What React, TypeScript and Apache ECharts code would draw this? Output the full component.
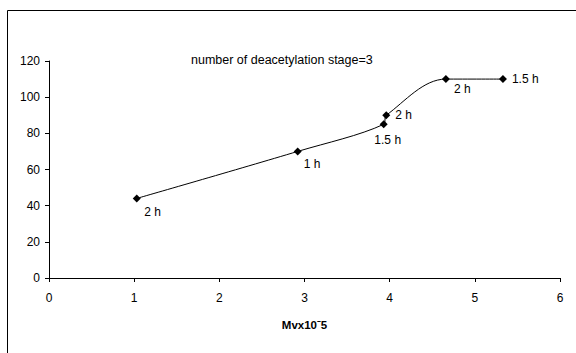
import React, { useEffect, useRef } from "react";
import * as echarts from "echarts";

const mvValues = [1.03, 2.92, 3.93, 3.96, 4.66, 5.33];
const yValues = [44, 70, 85, 90, 110, 110];
const timeLabels = ["2 h", "1 h", "1.5 h", "2 h", "2 h", "1.5 h"];
const xTicks = [0, 1, 2, 3, 4, 5, 6];
const yTicks = [0, 20, 40, 60, 80, 100, 120];

const labelPlacement: { position: string; offset: [number, number] }[] = [
  { position: "right", offset: [-1.5, 14] },
  { position: "right", offset: [-3, 13] },
  { position: "bottom", offset: [4, 1] },
  { position: "right", offset: [0, 0] },
  { position: "right", offset: [-1, 10] },
  { position: "right", offset: [0, 0] },
];

const FONT = "'Liberation Sans', Arial, sans-serif";

export default function App() {
  const ref = useRef<HTMLDivElement>(null);
  useEffect(() => {
    if (!ref.current) return;
    const chart = echarts.init(ref.current, null, { renderer: "svg" });
    const data = mvValues.map((x, i) => ({
      value: [x, yValues[i]],
      label: {
        show: true,
        formatter: timeLabels[i],
        position: labelPlacement[i].position as any,
        offset: labelPlacement[i].offset,
      },
    }));
    chart.setOption({
      animation: false,
      backgroundColor: "#ffffff",
      textStyle: { fontFamily: FONT },
      graphic: [
        {
          type: "rect",
          shape: { x: 7.5, y: 10.5, width: 620, height: 400 },
          style: { fill: "none", stroke: "#000", lineWidth: 1 },
          silent: true,
        },
        {
          type: "text",
          left: 191,
          top: 53,
          style: {
            text: "number of deacetylation stage=3",
            font: `12.5px ${FONT}`,
            fill: "#000",
          },
        },
      ],
      grid: { left: 49, top: 61, width: 511, height: 217 },
      xAxis: {
        type: "value",
        min: xTicks[0],
        max: xTicks[xTicks.length - 1],
        interval: 1,
        name: "Mvx10ˉ5",
        nameLocation: "middle",
        nameGap: 41,
        nameTextStyle: { fontWeight: "bold", fontSize: 11.5, color: "#000", fontFamily: FONT },
        axisLine: { lineStyle: { color: "#000", width: 1 } },
        axisTick: { show: true, length: 4, lineStyle: { color: "#000" } },
        axisLabel: { color: "#000", fontSize: 12, margin: 14, fontFamily: FONT },
        splitLine: { show: false },
      },
      yAxis: {
        type: "value",
        min: yTicks[0],
        max: yTicks[yTicks.length - 1],
        interval: 20,
        axisLine: { show: true, lineStyle: { color: "#000", width: 1 } },
        axisTick: { show: true, length: 4, lineStyle: { color: "#000" } },
        axisLabel: { color: "#000", fontSize: 12, margin: 9, fontFamily: FONT },
        splitLine: { show: false },
      },
      series: [
        {
          type: "line",
          data,
          smooth: 0.35,
          symbol: "diamond",
          symbolSize: 8,
          itemStyle: { color: "#000" },
          lineStyle: { color: "#000", width: 1 },
          label: { color: "#000", fontSize: 12, fontFamily: FONT },
        },
      ],
    });
    return () => chart.dispose();
  }, []);
  return <div ref={ref} style={{ width: 576, height: 353, position: "absolute", left: 0, top: 0 }} />;
}
